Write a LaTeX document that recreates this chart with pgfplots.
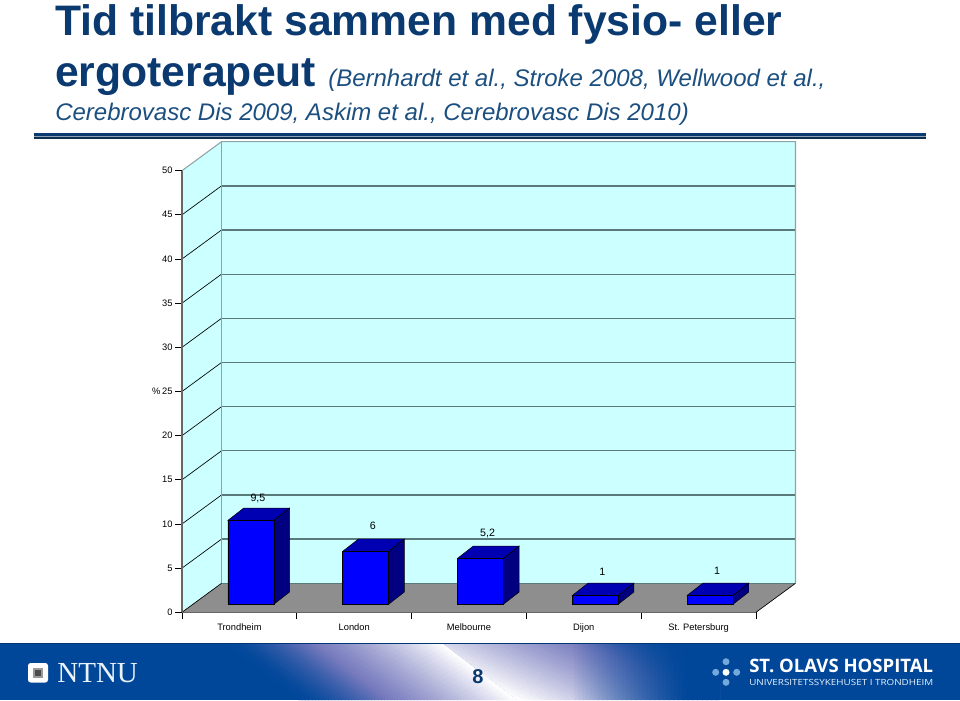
\documentclass[border=0pt]{standalone}
\usepackage{fontspec}
\setmainfont{Liberation Sans}
\newfontfamily\serifnt{Liberation Serif}
\newfontfamily\opensans{Open Sans}
\usepackage{pgfplots}
\pgfplotsset{compat=1.18}

\definecolor{titleblue}{HTML}{0B3A70}
\definecolor{subblue}{HTML}{1B4F80}
\definecolor{footblue}{HTML}{00479A}
\definecolor{lavb}{HTML}{4A4FA8}
\definecolor{wallc}{HTML}{CCFFFF}
\definecolor{floorc}{HTML}{8E8E8E}
\definecolor{gridc}{HTML}{5A7A7A}
\definecolor{edgec}{HTML}{8FA3A3}
\definecolor{dotc}{HTML}{74A9DC}

% 1 px of the 960x700 slide = 0.75pt
\begin{document}
\begin{tikzpicture}
\useasboundingbox (0,0) rectangle (720pt,-525pt);

\begin{scope}[x=0.75pt,y=-0.75pt]
% title
\node[anchor=base west,inner sep=0,text=titleblue,font=\fontsize{32}{34}\selectfont\bfseries] at (55,35) {Tid tilbrakt sammen med fysio- eller};
\node[anchor=base west,inner sep=0,text=titleblue,font=\fontsize{32}{34}\selectfont\bfseries] at (55,86) {ergoterapeut};
\node[anchor=base west,inner sep=0,text=subblue,font=\fontsize{18}{20}\selectfont\itshape] at (328,86) {(Bernhardt et al., Stroke 2008, Wellwood et al.,};
\node[anchor=base west,inner sep=0,text=subblue,font=\fontsize{18}{20}\selectfont\itshape] at (55,120) {Cerebrovasc Dis 2009, Askim et al., Cerebrovasc Dis 2010)};
% rule
\fill[titleblue] (34,132.5) rectangle (926,136);
\fill[black!10!subblue!50!white] (34,136) rectangle (926,137);
\fill[black!40!subblue] (34,137) rectangle (926,138.8);

% footer
\fill[footblue] (0,643) rectangle (960,700);
\begin{scope}
\clip (200,643) -- (442,643) -- (517,700) -- (200,700) -- cycle;
\begin{scope}[shift={(442,643)},rotate=232.7]
\foreach \i in {-2,0,...,130}{
  \pgfmathsetmacro\p{100*(1-max(\i,0)/132)^1.6}
  \pgfmathsetmacro\q{min(100,\p*4)}
  \colorlet{tmpc}{lavb!\q!footblue}
  \fill[white!\p!tmpc] (\i,-400) rectangle (\i+2.4,400);
}
\end{scope}
\end{scope}
\begin{scope}
\clip (442,643) -- (517,700) -- (720,700) -- (720,643) -- cycle;
\begin{scope}[shift={(517,700)},rotate=65]
\foreach \i in {-40,-38,...,130}{
  \pgfmathsetmacro\p{100*(1-max(\i,0)/130)^1.5}
  \pgfmathsetmacro\q{min(100,\p*4)}
  \colorlet{tmpc}{lavb!\q!footblue}
  \fill[white!\p!tmpc] (\i,-500) rectangle (\i+2.4,500);
}
\end{scope}
\foreach \i in {570,574,...,720}{
  \pgfmathsetmacro\q{min(1,(\i-570)/115)}
  \fill[footblue,opacity=\q] (\i,643) rectangle (\i+4,700);
}
\end{scope}
\fill[black!25!footblue] (0,642.6) rectangle (960,643.8);
\fill[white,rounded corners=2pt] (28,663) rectangle (48,682.5);
\fill[black!40!white] (33,668) rectangle (43,678);
\fill[black!70!white] (35,670) rectangle (41,676);
\node[anchor=base west,inner sep=0,text=white!85!dotc,font=\serifnt\fontsize{21.8}{22}\selectfont] at (57,682) {NTNU};
\node[text=titleblue,font=\fontsize{15}{16}\selectfont\bfseries] at (478,676.5) {8};
\fill[dotc] (726,661.7) circle (3.5);
\fill[dotc] (715.7,672.3) circle (3.5);
\fill[white] (726,672.3) circle (3.5);
\fill[dotc] (736.7,672.3) circle (3.5);
\fill[dotc] (726,682.3) circle (3.5);
\node[anchor=base west,inner sep=0,text=white,font=\opensans\fontsize{13.9}{15}\selectfont\bfseries] at (749,672.7) {ST. OLAVS HOSPITAL};
\node[anchor=base west,inner sep=0,text=white!85!dotc] at (749,685.7) {\resizebox{138pt}{4.6pt}{\opensans UNIVERSITETSSYKEHUSET I TRONDHEIM}};
\end{scope}

% walls, floor and axes
\begin{axis}[
    at={(136.5pt,-459.2pt)}, anchor=south west,
    scale only axis, width=430.5pt, height=331.2pt,
    xmin=0, xmax=5, ymin=0, ymax=50,
    clip=false, axis on top=true,
    axis lines=left, axis line style={-,black!60!white,line width=1pt},
    tick align=outside, tick style={black,line width=0.5pt},
    major tick length=5.2pt,
    xtick={0,1,2,3,4,5}, xticklabels={},
    extra x ticks={0.5,1.5,2.5,3.5,4.5},
    extra x tick labels={Trondheim,London,Melbourne,Dijon,St. Petersburg},
    extra x tick style={major tick length=0pt,tick style={draw=none}},
    ytick={0,5,...,50},
    x tick label style={font=\fontsize{7}{8}\selectfont,yshift=-5.3pt},
    y tick label style={font=\fontsize{7}{8}\selectfont,xshift=1.6pt},
    /pgf/number format/assume math mode=true,
    ylabel={\%},
    y label style={at={(axis description cs:-0.045,0.5)},rotate=-90,anchor=center,font=\fontsize{7}{8}\selectfont},
]
\addplot[fill=wallc,draw=none] coordinates {(0,0)(0,50)(0.344,53.28)(0.344,3.28)} -- cycle;
\addplot[fill=wallc,draw=none] coordinates {(0.344,3.28)(5.344,3.28)(5.344,53.28)(0.344,53.28)} -- cycle;
\addplot[fill=floorc,draw=none] coordinates {(0,0)(0.344,3.28)(5.344,3.28)(5,0)} -- cycle;
\pgfplotsinvokeforeach{5,10,...,45}{
  \draw[black,line width=0.5pt] (axis cs:0,#1) -- (axis cs:0.344,{#1+3.28});
  \draw[gridc,line width=1pt] (axis cs:0.344,{#1+3.28}) -- (axis cs:5.344,{#1+3.28});
}
\draw[edgec,line width=0.8pt] (axis cs:0,50) -- (axis cs:0.344,53.28) -- (axis cs:5.344,53.28) -- (axis cs:5.344,3.28);
\draw[edgec,line width=0.8pt] (axis cs:0.344,53.28) -- (axis cs:0.344,3.28);
\draw[gridc,line width=0.8pt] (axis cs:0.344,3.28) -- (axis cs:5.344,3.28);
\draw[black,line width=0.5pt] (axis cs:0,0) -- (axis cs:0.344,3.28);
\draw[black,line width=0.5pt] (axis cs:5,0) -- (axis cs:5.344,3.28);
\end{axis}

% bars, on the floor, so the axis stands a little back and up
\begin{axis}[
    at={(145.1pt,-453.2pt)}, anchor=south west,
    scale only axis, width=430.5pt, height=331.2pt,
    xmin=0, xmax=5, ymin=0, ymax=50,
    clip=false, hide axis,
]
\pgfplotsset{
  side/.style={fill=black!0!blue!50!black,draw=black,line width=0.35pt},
  topf/.style={fill=blue!70!black,draw=black,line width=0.35pt},
}
\addplot[topf] coordinates {(0.3,9.5)(0.7,9.5)(0.837,10.89)(0.437,10.89)} -- cycle;
\addplot[side] coordinates {(0.7,0)(0.837,1.39)(0.837,10.89)(0.7,9.5)} -- cycle;
\addplot[topf] coordinates {(1.3,6)(1.7,6)(1.837,7.39)(1.437,7.39)} -- cycle;
\addplot[side] coordinates {(1.7,0)(1.837,1.39)(1.837,7.39)(1.7,6)} -- cycle;
\addplot[topf] coordinates {(2.3,5.2)(2.7,5.2)(2.837,6.59)(2.437,6.59)} -- cycle;
\addplot[side] coordinates {(2.7,0)(2.837,1.39)(2.837,6.59)(2.7,5.2)} -- cycle;
\addplot[topf] coordinates {(3.3,1)(3.7,1)(3.837,2.39)(3.437,2.39)} -- cycle;
\addplot[side] coordinates {(3.7,0)(3.837,1.39)(3.837,2.39)(3.7,1)} -- cycle;
\addplot[topf] coordinates {(4.3,1)(4.7,1)(4.837,2.39)(4.437,2.39)} -- cycle;
\addplot[side] coordinates {(4.7,0)(4.837,1.39)(4.837,2.39)(4.7,1)} -- cycle;
\addplot[ybar,bar width=0.4,fill=blue,draw=black,line width=0.35pt,
    nodes near coords,
    visualization depends on={value \thisrow{off} \as \labeloff},
    every node near coord/.append style={anchor=center,xshift=5.3pt,yshift=\labeloff pt,
      font=\fontsize{8}{9}\selectfont,text=black,
      /pgf/number format/use comma,/pgf/number format/assume math mode=true}]
  table[x=x,y=y] {
x y off
0.5 9.5 16.3
1.5 6 19
2.5 5.2 19
3.5 1 17.5
4.5 1 18.3
};
\end{axis}
\end{tikzpicture}
\end{document}
